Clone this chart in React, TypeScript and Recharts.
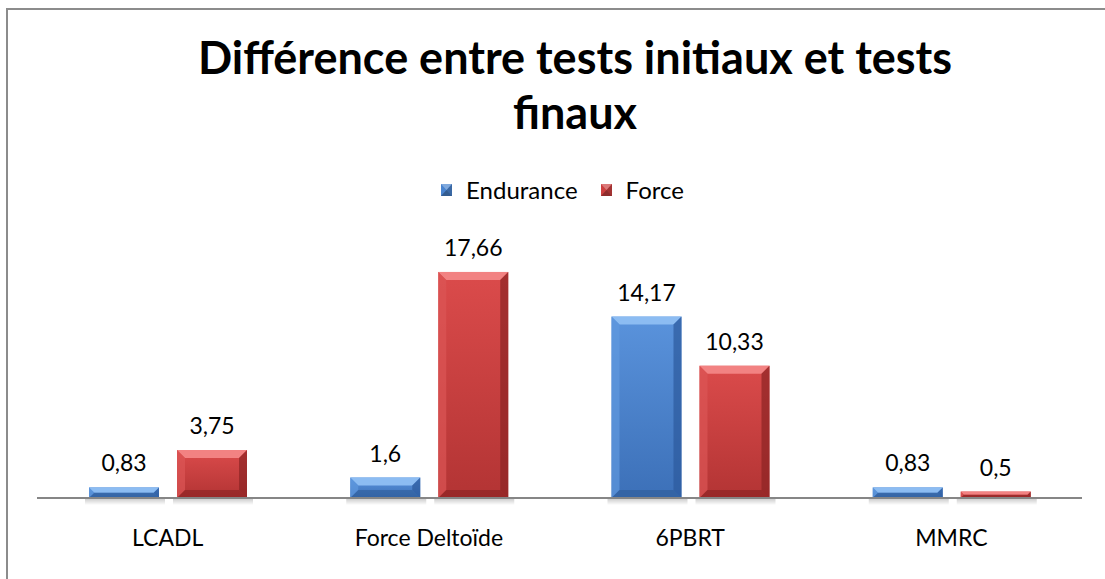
import { BarChart, Bar, XAxis, YAxis, Legend, LabelList } from "recharts";

const categories = ["LCADL", "Force Deltoïde", "6PBRT", "MMRC"];
const endurance = [0.83, 1.6, 14.17, 0.83];
const force = [3.75, 17.66, 10.33, 0.5];
const seriesNames = ["Endurance", "Force"];

const data = categories.map((name, i) => ({
  name,
  endurance: endurance[i],
  force: force[i],
}));

const fmt = (v: number | string) => String(v).replace(".", ",");

const palettes: Record<string, any> = {
  blue: { id: "faceBlue", top: "#8cbcf2", left: "#5f98de", right: "#2c5a9c", bottom: "#2f5c98", c1: "#5a93dc", c2: "#3c70b8" },
  red: { id: "faceRed", top: "#f28282", left: "#dc5555", right: "#8c2424", bottom: "#872222", c1: "#db4b4b", c2: "#b33434" },
};

function BevelBar(props: any) {
  const { x, y, width: w, height: h, pal } = props;
  if (!h || h <= 0) return null;
  const p = palettes[pal];
  const b = Math.min(8, h / 2, w / 2);
  const pts = (arr: number[][]) => arr.map((a) => a.join(",")).join(" ");
  return (
    <g>
      <rect x={x - 4} y={y + h} width={w + 10} height={7} fill="url(#shadowGrad)" />
      <rect x={x} y={y} width={w} height={h} fill={`url(#${p.id})`} />
      <polygon points={pts([[x, y], [x + w, y], [x + w - b, y + b], [x + b, y + b]])} fill={p.top} />
      <polygon points={pts([[x, y], [x + b, y + b], [x + b, y + h - b], [x, y + h]])} fill={p.left} opacity={0.7} />
      <polygon points={pts([[x + w, y], [x + w, y + h], [x + w - b, y + h - b], [x + w - b, y + b]])} fill={p.right} opacity={0.7} />
      <polygon points={pts([[x, y + h], [x + b, y + h - b], [x + w - b, y + h - b], [x + w, y + h]])} fill={p.bottom} opacity={0.6} />
    </g>
  );
}

function LegendContent(props: any) {
  const { payload } = props;
  return (
    <div style={{ display: "flex", justifyContent: "center", alignItems: "center", gap: 23, fontFamily: "Lato", fontSize: 24, lineHeight: "28px", color: "#000" }}>
      {(payload || []).map((e: any) => (
        <div key={e.value} style={{ display: "flex", alignItems: "center", gap: 14 }}>
          <svg width={11} height={12}>
            <rect x={0} y={0} width={11} height={12} fill={e.color} />
            <polygon points="0,0 11,0 5.5,6" fill="#ffffff" opacity={0.3} />
            <polygon points="11,0 11,12 5.5,6" fill="#000000" opacity={0.2} />
            <polygon points="0,12 11,12 5.5,6" fill="#000000" opacity={0.3} />
          </svg>
          <span>{e.value}</span>
        </div>
      ))}
    </div>
  );
}

export default function App() {
  return (
    <div style={{ position: "absolute", left: 0, top: 0, width: 1105, height: 579, background: "#fff", overflow: "hidden" }}>
      <div style={{ position: "absolute", left: 6, top: 8, width: 1120, height: 600, border: "2px solid #8c8c8c", boxSizing: "border-box" }} />
      <div style={{ position: "absolute", left: 0, top: 30, width: 1150, textAlign: "center", fontFamily: "Lato", fontWeight: "bold", fontSize: 45, lineHeight: "55px", color: "#000" }}>
        Différence entre tests initiaux et tests
        <br />
        finaux
      </div>
      <div style={{ position: "absolute", left: 0, top: 0 }}>
        <BarChart width={1105} height={579} data={data} margin={{ top: 242, right: 23, left: 37, bottom: 51 }} barGap={18} barSize={70}>
          <defs>
            <linearGradient id="faceBlue" x1="0" y1="0" x2="0" y2="1">
              <stop offset="0%" stopColor={palettes.blue.c1} />
              <stop offset="100%" stopColor={palettes.blue.c2} />
            </linearGradient>
            <linearGradient id="faceRed" x1="0" y1="0" x2="0" y2="1">
              <stop offset="0%" stopColor={palettes.red.c1} />
              <stop offset="100%" stopColor={palettes.red.c2} />
            </linearGradient>
            <linearGradient id="shadowGrad" x1="0" y1="0" x2="0" y2="1">
              <stop offset="0%" stopColor="#000" stopOpacity={0.22} />
              <stop offset="100%" stopColor="#000" stopOpacity={0} />
            </linearGradient>
          </defs>
          <XAxis
            dataKey="name"
            axisLine={{ stroke: "#868686", strokeWidth: 2 }}
            tickLine={false}
            tickMargin={26}
            interval={0}
            tick={{ fontSize: 23, fill: "#000", fontFamily: "Lato" }}
          />
          <YAxis hide domain={[0, 20]} />
          <Legend
            verticalAlign="middle"
            align="center"
            layout="horizontal"
            content={<LegendContent />}
            wrapperStyle={{ top: 176, left: 0, width: 1125 }}
          />
          <Bar dataKey="endurance" name={seriesNames[0]} fill="#4a84cf" isAnimationActive={false} shape={(p: any) => <BevelBar {...p} pal="blue" />}>
            <LabelList dataKey="endurance" position="top" offset={16} formatter={fmt} style={{ fontSize: 23, fill: "#000", fontFamily: "Lato" }} />
          </Bar>
          <Bar dataKey="force" name={seriesNames[1]} fill="#cc4040" isAnimationActive={false} shape={(p: any) => <BevelBar {...p} pal="red" />}>
            <LabelList dataKey="force" position="top" offset={16} formatter={fmt} style={{ fontSize: 23, fill: "#000", fontFamily: "Lato" }} />
          </Bar>
        </BarChart>
      </div>
    </div>
  );
}
